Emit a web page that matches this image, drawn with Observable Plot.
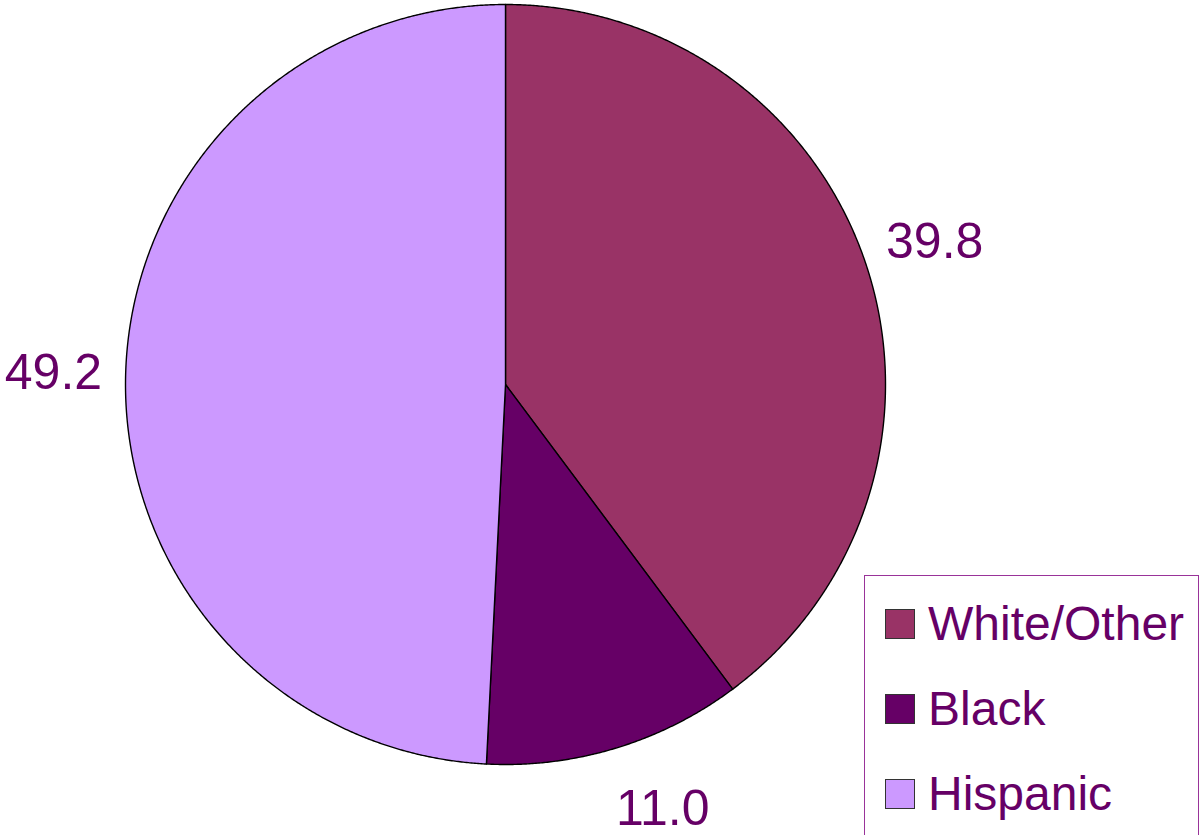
<!DOCTYPE html>
<html>
<head>
<meta charset="utf-8">
<script src="https://cdn.jsdelivr.net/npm/d3@7"></script>
<script src="https://cdn.jsdelivr.net/npm/@observablehq/plot@0.6"></script>
<style>
  html, body { margin: 0; padding: 0; background: #fff; }
  #wrap { position: relative; width: 1201px; height: 835px; overflow: hidden; font-family: "Liberation Sans", Arial, sans-serif; }
  #legend { position: absolute; left: 864px; top: 575px; width: 335px; height: 270px; border: 1.5px solid #993399; background: #fff; box-sizing: border-box; }
  .item { position: absolute; left: 20px; height: 48px; display: flex; align-items: center; }
  .sw { width: 30px; height: 30px; border: 1.5px solid #333; box-sizing: border-box; margin-right: 13px; }
  .lab { font-size: 48px; color: #660066; line-height: 1; }
</style>
</head>
<body>
<div id="wrap"></div>
<script>
const categories = ["White/Other", "Black", "Hispanic"];
const values = [39.8, 11.0, 49.2];
const colors = ["#993366", "#660066", "#CC99FF"];

const R = 380, cx = 505, cy = 384, W = 1201, H = 835;
const labelR = 1.19, labelHalfH = 27 / R;
const yMin = -(H - cy) / R;

const total = d3.sum(values);
const slices = [];
const labels = [];
let start = 0;
categories.forEach((c, i) => {
  const a0 = start / total * 2 * Math.PI;
  const a1 = (start + values[i]) / total * 2 * Math.PI;
  const n = Math.max(2, Math.ceil((a1 - a0) / (Math.PI / 720)));
  slices.push({category: c, u: 0, v: 0});
  for (let k = 0; k <= n; k++) {
    const a = a0 + (a1 - a0) * k / n;
    slices.push({category: c, u: Math.sin(a), v: Math.cos(a)});
  }
  slices.push({category: c, u: 0, v: 0});
  let am = (a0 + a1) / 2;
  // rotate a label toward the horizontal if it would fall off the bottom edge
  const vLimit = yMin + labelHalfH;
  if (labelR * Math.cos(am) < vLimit) {
    const aFit = Math.acos(vLimit / labelR);
    am = am < Math.PI ? aFit : 2 * Math.PI - aFit;
  }
  labels.push({category: c, value: values[i], u: labelR * Math.sin(am), v: labelR * Math.cos(am)});
  start += values[i];
});

const chart = Plot.plot({
  width: W, height: H,
  margin: 0,
  x: {domain: [-cx / R, (W - cx) / R], axis: null},
  y: {domain: [yMin, cy / R], axis: null},
  color: {domain: categories, range: colors},
  style: {fontFamily: "'Liberation Sans', Arial, sans-serif", background: "#fff"},
  marks: [
    Plot.line(slices, {x: "u", y: "v", z: "category", fill: "category", stroke: "#000", strokeWidth: 1.4, strokeLinejoin: "round"}),
    Plot.text(labels, {x: "u", y: "v", text: d => d.value.toFixed(1), fill: "#660066", fontSize: 50, textAnchor: "middle", lineAnchor: "middle"})
  ]
});
const wrap = document.getElementById("wrap");
wrap.appendChild(chart);

const legend = document.createElement("div");
legend.id = "legend";
categories.forEach((c, i) => {
  const item = document.createElement("div");
  item.className = "item";
  item.style.top = (24 + i * 85) + "px";
  item.innerHTML = `<div class="sw" style="background:${colors[i]}"></div><div class="lab">${c}</div>`;
  legend.appendChild(item);
});
wrap.appendChild(legend);
</script>
</body>
</html>
